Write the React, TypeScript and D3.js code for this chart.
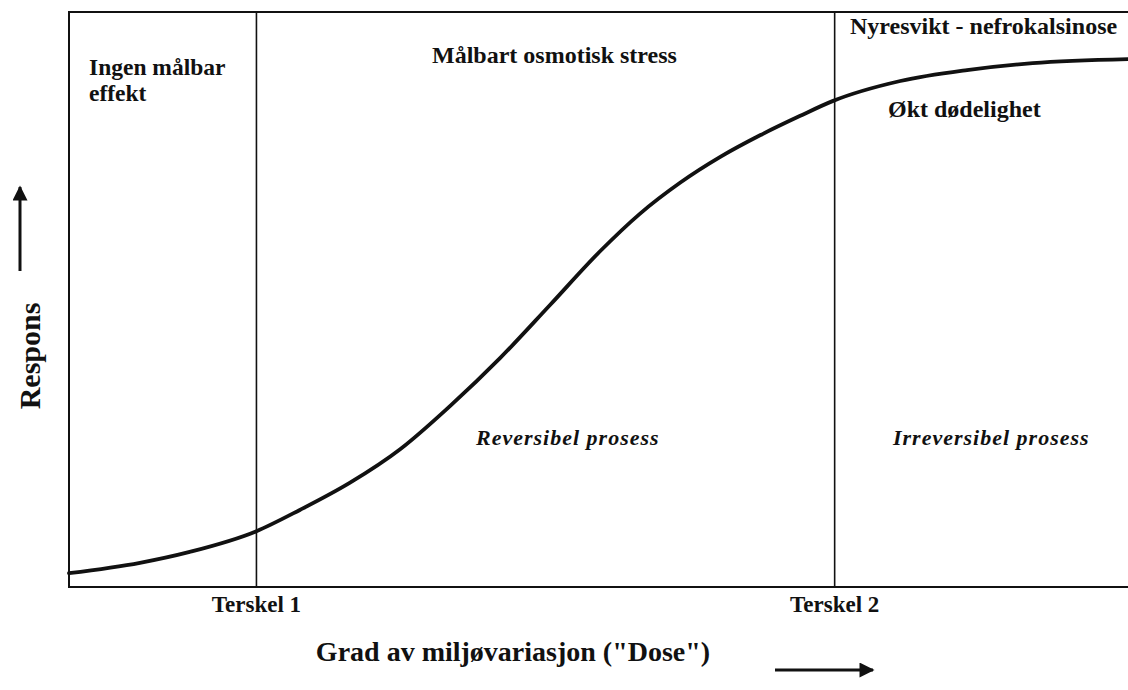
import React from "react";
import * as d3 from "d3";

// dose (0-100) vs response (0-100)
const doseValues = [0, 6.7, 11.4, 17.7, 21.8, 26.5, 31.3, 36.0, 40.7, 45.4, 50.1, 53.9, 57.7, 61.5, 65.3, 69.0, 72.1, 78.5, 84.8, 91.0, 100];
const responseValues = [2.4, 4.2, 6.1, 9.7, 13.4, 18.1, 24.0, 31.5, 39.8, 49.0, 58.3, 64.9, 70.3, 74.8, 78.6, 81.9, 84.5, 88.0, 89.9, 91.1, 91.8];

const thresholds = [17.7, 72.3];
const thresholdLabels = ["Terskel 1", "Terskel 2"];

const W = 1128;
const H = 690;
const margin = { top: 12, right: 0, bottom: 103, left: 69 };
const font = "'Liberation Serif', 'Times New Roman', serif";

export default function App() {
  const x = d3.scaleLinear().domain([0, 100]).range([margin.left, W - margin.right]);
  const y = d3.scaleLinear().domain([0, 100]).range([H - margin.bottom, margin.top]);

  const pts = doseValues.map((d, i) => [d, responseValues[i]] as [number, number]);
  const line = d3
    .line<[number, number]>()
    .x((d) => x(d[0]))
    .y((d) => y(d[1]))
    .curve(d3.curveMonotoneX);

  const x0 = x(0);
  const x1 = x(100);
  const yTop = y(100);
  const yBot = y(0);

  return (
    <svg width={W} height={H} style={{ position: "absolute", left: 0, top: 0, background: "#fff" }} fontFamily={font}>
      <defs>
        <marker id="head" viewBox="0 0 10 10" refX="9" refY="5" markerWidth="7" markerHeight="5" orient="auto">
          <path d="M0,0 L10,5 L0,10 Z" fill="#111" />
        </marker>
      </defs>
      {/* frame: top, left, bottom (no right edge) */}
      <path d={`M${x1},${yTop} L${x0},${yTop} L${x0},${yBot} L${x1},${yBot}`} fill="none" stroke="#111" strokeWidth={2} />
      {thresholds.map((t, i) => (
        <g key={i}>
          <line x1={x(t)} x2={x(t)} y1={yTop} y2={yBot} stroke="#111" strokeWidth={1.6} />
          <text x={x(t)} y={yBot + 25} textAnchor="middle" fontSize={23} fontWeight="bold" fill="#111">
            {thresholdLabels[i]}
          </text>
        </g>
      ))}
      <path d={line(pts) ?? ""} fill="none" stroke="#111" strokeWidth={3.8} strokeLinecap="round" />

      <g fontWeight="bold" fill="#111" fontSize={24}>
        <text x={89} y={75} fontSize={23.5}>Ingen målbar</text>
        <text x={89} y={101} fontSize={23.5}>effekt</text>
        <text x={432} y={63}>Målbart osmotisk stress</text>
        <text x={850} y={34}>Nyresvikt - nefrokalsinose</text>
        <text x={888} y={117}>Økt dødelighet</text>
        <text x={476} y={445} fontStyle="italic" fontSize={22} letterSpacing={1}>Reversibel prosess</text>
        <text x={893} y={445} fontStyle="italic" fontSize={22} letterSpacing={1}>Irreversibel prosess</text>
      </g>

      <text x={513} y={661} textAnchor="middle" fontSize={28} fontWeight="bold" fill="#111">
        Grad av miljøvariasjon ("Dose")
      </text>
      <line x1={775} x2={873} y1={670} y2={670} stroke="#111" strokeWidth={3} markerEnd="url(#head)" />

      <text transform="translate(40,356) rotate(-90)" textAnchor="middle" fontSize={30} fontWeight="bold" fill="#111">
        Respons
      </text>
      <line x1={20} x2={20} y1={271} y2={187} stroke="#111" strokeWidth={3} markerEnd="url(#head)" />
    </svg>
  );
}
